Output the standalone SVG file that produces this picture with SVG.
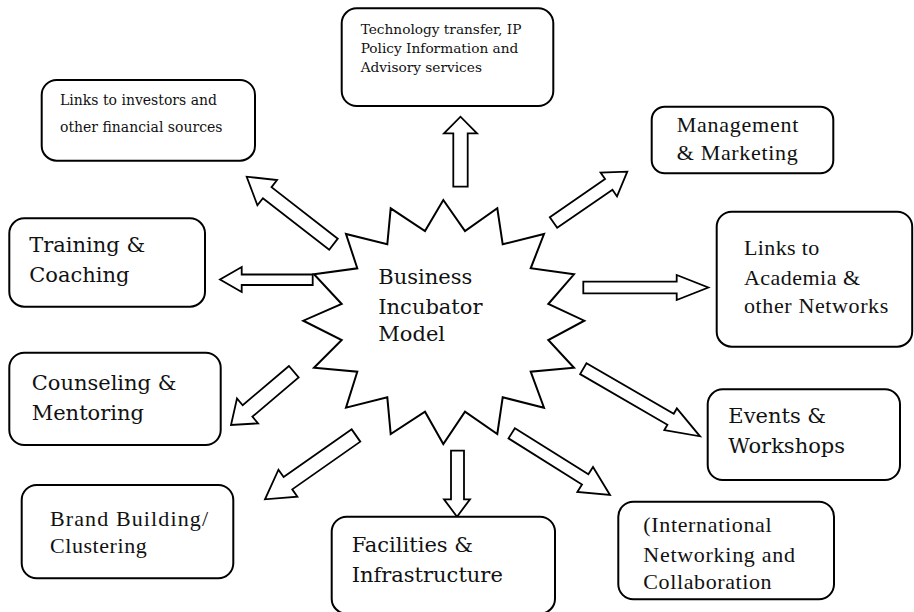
<svg xmlns="http://www.w3.org/2000/svg" width="914" height="612" viewBox="0 0 914 612">
<style>
.box{fill:#fff;stroke:#000;stroke-width:2}
.arr{fill:#fff;stroke:#000;stroke-width:1.8;stroke-linejoin:miter}
.star{fill:#fff;stroke:#000;stroke-width:2;stroke-linejoin:miter}
.c{font-family:"DejaVu Serif","Liberation Serif",serif;fill:#111}
.g{font-family:"Liberation Serif","DejaVu Serif",serif;fill:#111;font-size:22px}
.big{font-size:21px}
</style>
<rect width="914" height="612" fill="#fff"/>
<g id="center">
<polygon class="star" points="443.3,200 465,231 497.3,208.3 502.7,244.3 544,234 530.7,268.3 574,274.3 548.3,304 584.3,320.7 548.3,340 574,367.7 530.7,371.7 544,407.7 502.7,397.3 497.3,434 465,411.7 443.3,444 425,411.7 390.7,434 387.3,397.3 346,407.7 357.3,371.7 314,367.7 341.7,340 303.3,320.7 341.7,304 314,274.3 357.3,268.3 346,234 387.3,244.3 390.7,208.3 425,231"/>
<text class="c big" x="378.3" y="284">Business</text>
<text class="c big" x="378.3" y="313.5">Incubator</text>
<text class="c big" x="378.3" y="341">Model</text>
</g>
<g id="connectors">
<polygon class="arr" points="453.3,186.7 453.3,133.3 444,133.3 460.5,116.7 477,133.3 467.7,133.3 467.7,186.7"/>
<polygon class="arr" points="337.8,238.67 271.52,187.13 277.04,180.03 246.7,176.7 257.4,205.29 262.92,198.19 329.2,249.73"/>
<polygon class="arr" points="557.19,227.85 612.46,189.81 616.99,196.4 627.3,171.7 600.55,172.52 605.08,179.11 549.81,217.15"/>
<polygon class="arr" points="312.7,274.5 241.7,274.5 241.7,267 220,279.5 241.7,292 241.7,285 312.7,285"/>
<polygon class="arr" points="583.3,281.7 676.7,281.7 676.7,275 708.3,287.5 676.7,300 676.7,293.3 583.3,293.3"/>
<polygon class="arr" points="288.95,365.98 242.69,405.24 236.99,398.53 231,425 258.09,423.39 252.39,416.68 298.65,377.42"/>
<polygon class="arr" points="351.69,429.36 283.62,477.09 278.46,469.72 265,499.3 297.4,496.74 292.24,489.37 360.31,441.64"/>
<polygon class="arr" points="451,450.7 464,450.7 464,499.3 470,499.3 457,516.7 444,499.3 451,499.3"/>
<polygon class="arr" points="508.51,438.38 581.99,484.5 577.34,491.91 610,495 593.02,466.93 588.37,474.34 514.89,428.22"/>
<polygon class="arr" points="580.14,374.15 667.42,424.71 664.31,430.08 700,436.3 676.85,408.44 673.74,413.81 586.46,363.25"/>
</g>
<g id="tech">
<rect class="box" x="341.7" y="8.3" width="211.6" height="97.7" rx="15"/>
<text class="c" font-size="13.7" x="360.7" y="34">Technology transfer, IP</text>
<text class="c" font-size="13.7" x="360.7" y="53">Policy Information and</text>
<text class="c" font-size="13.7" x="360.7" y="72">Advisory services</text>
</g>
<g id="investors">
<rect class="box" x="41.7" y="80" width="213.3" height="80.7" rx="15"/>
<text class="c" font-size="14" x="60" y="105">Links to investors and</text>
<text class="c" font-size="14" x="60" y="131.7">other financial sources</text>
</g>
<g id="management">
<rect class="box" x="651.7" y="106.7" width="181.6" height="66.6" rx="13"/>
<text class="g" x="676.7" y="131.7" textLength="121.7">Management</text>
<text class="g" x="676.7" y="160" textLength="121">&amp; Marketing</text>
</g>
<g id="training">
<rect class="box" x="9.3" y="218.3" width="195.7" height="88.4" rx="15"/>
<text class="c big" x="29.3" y="251.7">Training &amp;</text>
<text class="c big" x="29.3" y="281.7">Coaching</text>
</g>
<g id="academia">
<rect class="box" x="716.7" y="211.7" width="195.5" height="135" rx="15"/>
<text class="g" x="744" y="255" textLength="75.3">Links to</text>
<text class="g" x="744" y="285" textLength="116">Academia &amp;</text>
<text class="g" x="744" y="312.7" textLength="144.3">other Networks</text>
</g>
<g id="counseling">
<rect class="box" x="9.3" y="352.7" width="211.4" height="92.3" rx="15"/>
<text class="c big" x="31.7" y="390">Counseling &amp;</text>
<text class="c big" x="31.7" y="420">Mentoring</text>
</g>
<g id="events">
<rect class="box" x="707.7" y="389.3" width="192.3" height="90.7" rx="15"/>
<text class="c big" x="728.3" y="423.3">Events &amp;</text>
<text class="c big" x="728.3" y="453.3">Workshops</text>
</g>
<g id="brand">
<rect class="box" x="21.7" y="485" width="211.6" height="93.3" rx="15"/>
<text class="g" x="50" y="525.7" textLength="158">Brand Building/</text>
<text class="g" x="50" y="553.3" textLength="96.7">Clustering</text>
</g>
<g id="facilities">
<rect class="box" x="331.7" y="516.7" width="223.3" height="97" rx="15"/>
<text class="c big" x="351.7" y="551.7">Facilities &amp;</text>
<text class="c big" x="351.7" y="581.7">Infrastructure</text>
</g>
<g id="international">
<rect class="box" x="618.3" y="501.7" width="215.7" height="97.6" rx="15"/>
<text class="g" x="643.3" y="531.7" textLength="128.3">(International</text>
<text class="g" x="643.3" y="561.7" textLength="151.7">Networking and</text>
<text class="g" x="643.3" y="589.3" textLength="128.3">Collaboration</text>
</g>
</svg>
